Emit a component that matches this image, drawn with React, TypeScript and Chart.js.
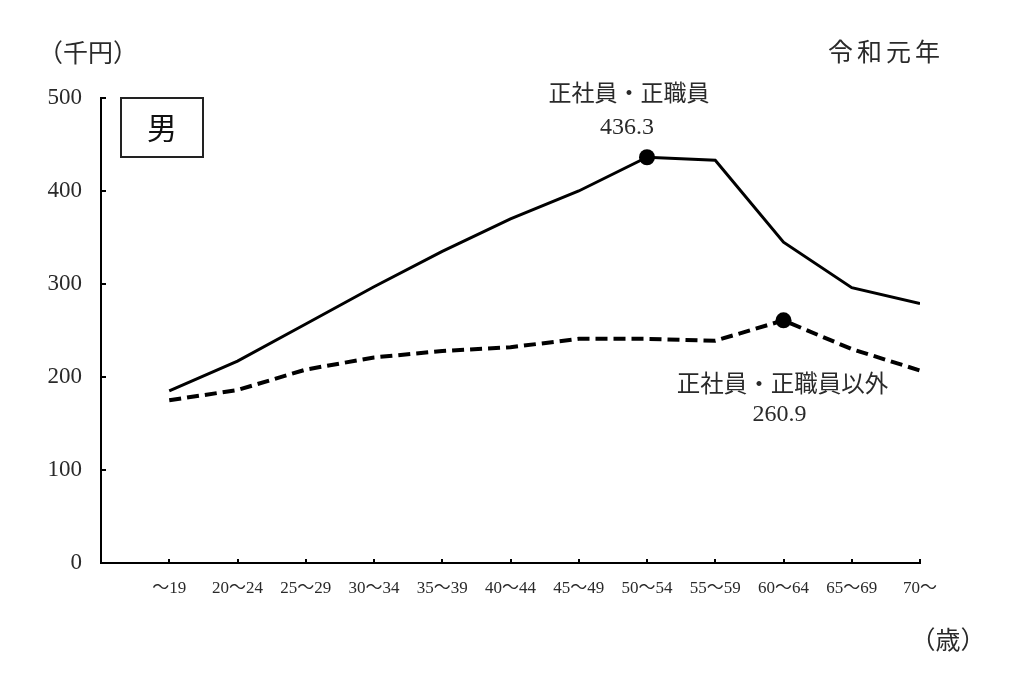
import React, { useEffect, useRef } from "react";
import { Chart, registerables } from "chart.js";

Chart.register(...registerables);

const categories = ["〜19", "20〜24", "25〜29", "30〜34", "35〜39", "40〜44", "45〜49", "50〜54", "55〜59", "60〜64", "65〜69", "70〜"];
const regularValues = [185, 217, 257, 297, 335, 370, 400, 436.3, 433, 345, 296, 279];
const nonRegularValues = [175, 186, 208, 221, 228, 232, 241, 241, 239, 260.9, 230, 207];
const yTicks = [0, 100, 200, 300, 400, 500];

const SERIF = "'Liberation Serif', 'Noto Sans CJK JP', serif";
const TEXT = "#2a2a2a";

function spacedText(ctx: any, text: string, cx: number, cy: number, step: number) {
  const chars = Array.from(text);
  const start = cx - ((chars.length - 1) * step) / 2;
  chars.forEach((c, i) => ctx.fillText(c, start + i * step, cy));
}

const overlay = {
  id: "overlay",
  afterDraw(chart: any) {
    const ctx = chart.ctx;
    const xs = chart.scales.x;
    const ys = chart.scales.y;
    const area = chart.chartArea;
    ctx.save();
    // inner tick marks
    ctx.strokeStyle = "#000";
    ctx.lineWidth = 2;
    ctx.beginPath();
    yTicks.forEach((v) => {
      if (v === 0) return;
      const py = Math.round(ys.getPixelForValue(v));
      ctx.moveTo(area.left, py);
      ctx.lineTo(area.left + 5, py);
    });
    categories.forEach((_, i) => {
      const px = Math.round(xs.getPixelForValue(i));
      ctx.moveTo(px, area.bottom);
      ctx.lineTo(px, area.bottom - 4);
    });
    ctx.stroke();

    ctx.fillStyle = TEXT;
    ctx.textAlign = "center";
    ctx.textBaseline = "middle";

    // series annotations
    const p1 = chart.getDatasetMeta(0).data[7];
    ctx.font = `23px ${SERIF}`;
    ctx.fillText("正社員・正職員", p1.x - 18, p1.y - 62);
    ctx.font = `24px ${SERIF}`;
    ctx.fillText(String(regularValues[7]), p1.x - 20, p1.y - 30);
    const p2 = chart.getDatasetMeta(1).data[9];
    ctx.font = `23.5px ${SERIF}`;
    ctx.fillText("正社員・正職員以外", p2.x - 1, p2.y + 65);
    ctx.font = `24px ${SERIF}`;
    ctx.fillText(String(nonRegularValues[9]), p2.x - 4, p2.y + 94);

    // titles
    ctx.font = `25px ${SERIF}`;
    ctx.fillText("（千円）", 88, 55);
    spacedText(ctx, "令和元年", 884, 54, 29);
    ctx.fillText("（歳）", 948, 642);

    // 男 box
    ctx.lineWidth = 2;
    ctx.strokeStyle = "#222";
    ctx.strokeRect(121, 98, 82, 59);
    ctx.font = `400 30px 'Noto Sans CJK JP', sans-serif`;
    ctx.fillStyle = "#111";
    ctx.fillText("男", 162, 128);
    ctx.restore();
  },
};

export default function App() {
  const ref = useRef<HTMLCanvasElement>(null);
  useEffect(() => {
    if (!ref.current) return;
    const chart = new Chart(ref.current, {
      type: "line",
      data: {
        datasets: [
          {
            label: "正社員・正職員",
            data: regularValues.map((v, i) => ({ x: i, y: v })),
            borderColor: "#000",
            backgroundColor: "#000",
            borderWidth: 3,
            pointRadius: regularValues.map((_, i) => (i === 7 ? 8 : 0)),
            pointBackgroundColor: "#000",
            pointBorderWidth: 0,
            tension: 0,
          },
          {
            label: "正社員・正職員以外",
            data: nonRegularValues.map((v, i) => ({ x: i, y: v })),
            borderColor: "#000",
            backgroundColor: "#000",
            borderWidth: 4,
            borderDash: [12, 6],
            pointRadius: nonRegularValues.map((_, i) => (i === 9 ? 8 : 0)),
            pointBackgroundColor: "#000",
            pointBorderWidth: 0,
            tension: 0,
          },
        ],
      },
      options: {
        animation: false,
        responsive: false,
        maintainAspectRatio: false,
        layout: { padding: { left: 0, top: 98, right: 104, bottom: 0 } },
        plugins: { legend: { display: false }, tooltip: { enabled: false } },
        scales: {
          x: {
            type: "linear",
            min: -1,
            max: 11,
            afterFit: (s: any) => {
              s.height = 120;
            },
            afterBuildTicks: (s: any) => {
              s.ticks = categories.map((_, i) => ({ value: i }));
            },
            grid: { display: false, drawTicks: false },
            border: { display: true, color: "#000", width: 2 },
            ticks: {
              autoSkip: false,
              maxRotation: 0,
              padding: 15,
              color: TEXT,
              font: { family: SERIF, size: 17 },
              callback: (v: any) => categories[v] ?? "",
            },
          },
          y: {
            min: 0,
            max: 500,
            afterFit: (s: any) => {
              s.width = 101;
            },
            afterBuildTicks: (s: any) => {
              s.ticks = yTicks.map((v) => ({ value: v }));
            },
            grid: { display: false, drawTicks: false },
            border: { display: true, color: "#000", width: 2 },
            ticks: {
              padding: 19,
              color: TEXT,
              font: { family: SERIF, size: 23 },
            },
          },
        },
      },
      plugins: [overlay],
    });
    return () => chart.destroy();
  }, []);
  return (
    <div style={{ position: "absolute", left: 0, top: 0, width: 1024, height: 683, background: "#fff" }}>
      <canvas ref={ref} width={1024} height={683} style={{ width: 1024, height: 683 }} />
    </div>
  );
}
